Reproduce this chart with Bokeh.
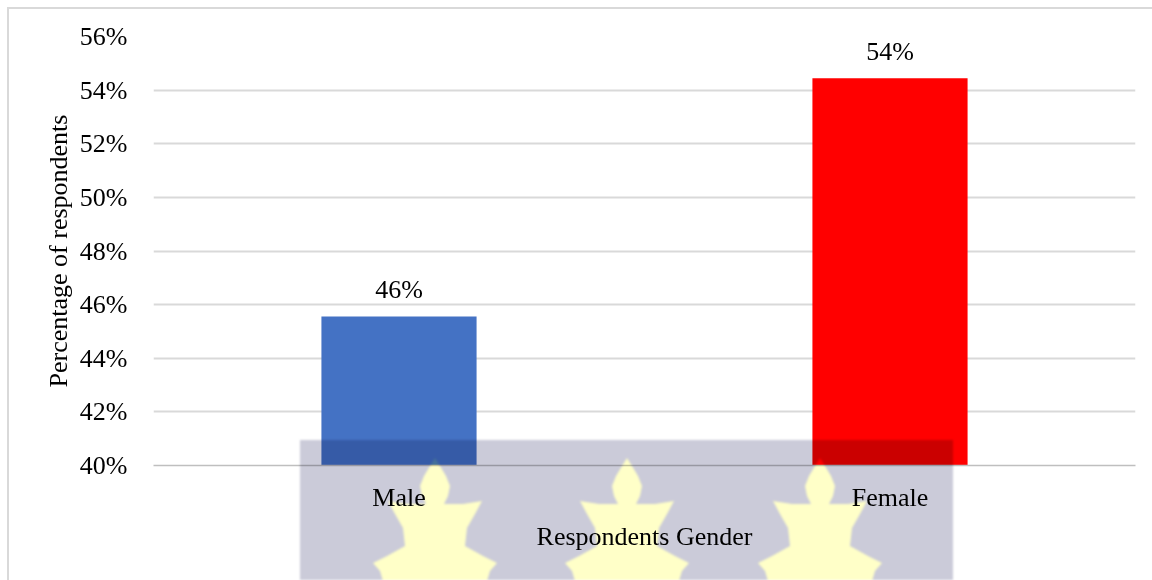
import base64
from bokeh.plotting import figure
from bokeh.models import (ColumnDataSource, FixedTicker, Range1d,
                          CustomJSTickFormatter, InlineStyleSheet)
from bokeh.embed import file_html
from bokeh.resources import INLINE
from bokeh.core.properties import value

# Respondents by gender (percent)
genders = ["Male", "Female"]
shares = [45.56, 54.44]
bar_colors = ["#4472C4", "#FF0000"]
y_ticks = [40, 42, 44, 46, 48, 50, 52, 54, 56]

FONT = "Liberation Serif"
SIZE = "26px"

src = ColumnDataSource(dict(
    gender=genders,
    share=shares,
    color=bar_colors,
    label=[f"{round(s):d}%" for s in shares],
))

p = figure(x_range=genders, y_range=Range1d(40, 56),
           width=1152, height=580,
           output_backend="svg", toolbar_location=None,
           min_border_left=153, min_border_right=17,
           min_border_top=36, min_border_bottom=115)
p.x_range.range_padding = 0

p.vbar(x="gender", top="share", bottom=40, width=0.316, color="color",
       line_color=None, source=src)

p.text(x="gender", y="share", text="label", source=src,
       text_align="center", text_baseline="bottom", y_offset=-12,
       text_font=value(FONT), text_font_size=SIZE, text_color="#000000")

# axes
p.yaxis.ticker = FixedTicker(ticks=y_ticks)
p.yaxis.formatter = CustomJSTickFormatter(code="return tick.toFixed(0) + '%';")
p.yaxis.axis_line_color = None
p.yaxis.major_tick_line_color = None
p.yaxis.minor_tick_line_color = None
p.yaxis.major_label_standoff = 20
p.yaxis.axis_label = "Percentage of respondents"
p.yaxis.axis_label_standoff = 4
p.xaxis.axis_label = "Respondents Gender"
p.xaxis.axis_label_standoff = 7
p.xaxis.major_label_standoff = 11
p.xaxis.axis_line_color = "#bfbfbf"
p.xaxis.axis_line_width = 1.5
p.xaxis.major_tick_line_color = None
p.xaxis.minor_tick_line_color = None

for ax in (p.xaxis, p.yaxis):
    ax.major_label_text_font = FONT
    ax.major_label_text_font_size = SIZE
    ax.major_label_text_color = "#000000"
    ax.axis_label_text_font = FONT
    ax.axis_label_text_font_size = SIZE
    ax.axis_label_text_font_style = "normal"
    ax.axis_label_text_color = "#000000"

p.xgrid.grid_line_color = None
p.ygrid.grid_line_color = "#d9d9d9"
p.ygrid.grid_line_width = 2
p.outline_line_color = None
p.background_fill_color = "white"
p.border_fill_color = "white"

# seal watermark: grey panel with three pale flame shapes, multiplied over the page
half = [(0, 0), (5, 8), (11, 18), (15, 28), (13, 38), (9, 46), (28, 46),
        (47, 43), (40, 56), (32, 70), (30, 88), (48, 98), (62, 105),
        (55, 113), (50, 130), (50, 160)]

def flame(cx, top):
    right = [(cx + dx, top + dy) for dx, dy in half]
    left = [(cx - dx, top + dy) for dx, dy in reversed(half)]
    pts = " ".join(f"{x},{y}" for x, y in right + left)
    return f'<polygon points="{pts}" fill="#ffffc8"/>'

seal = ('<svg xmlns="http://www.w3.org/2000/svg" width="653" height="140">'
        '<rect width="653" height="140" fill="#cbcbd9"/>'
        + "".join(flame(cx, 18) for cx in (135, 327, 520)) + '</svg>')
seal_uri = "data:image/svg+xml;base64," + base64.b64encode(seal.encode()).decode()

# chart border (left/top edges) and the watermark overlay
p.stylesheets = [InlineStyleSheet(css="""
:host { position: relative; }
:host::before {
  content: ""; position: absolute; left: 7px; top: 7px;
  width: 1145px; height: 573px; box-sizing: border-box;
  border-left: 2px solid #d9d9d9; border-top: 2px solid #d9d9d9;
  pointer-events: none; z-index: 5;
}
:host::after {
  content: ""; position: absolute; left: 300px; top: 440px;
  width: 653px; height: 140px;
  background-image: url("%s"); background-size: 653px 140px;
  mix-blend-mode: multiply; filter: blur(1px);
  pointer-events: none; z-index: 6;
}
""" % seal_uri)]

open("out.html", "w").write(file_html(p, INLINE))
